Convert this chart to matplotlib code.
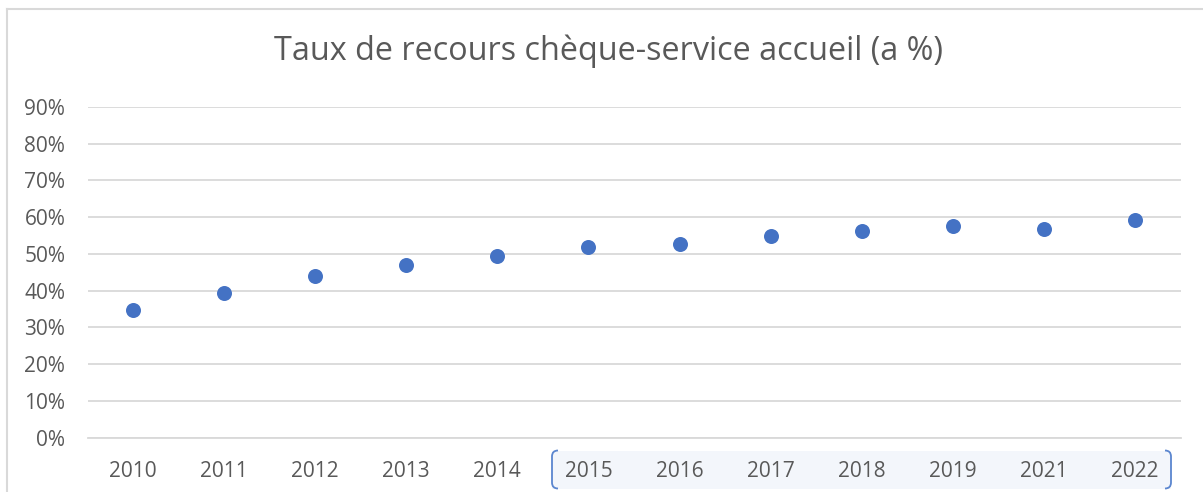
import matplotlib
matplotlib.use("Agg")
import matplotlib.pyplot as plt
from matplotlib.patches import Rectangle, PathPatch
from matplotlib.path import Path
from matplotlib.lines import Line2D
from matplotlib.transforms import IdentityTransform
from matplotlib.ticker import PercentFormatter

years = ["2010", "2011", "2012", "2013", "2014", "2015", "2016",
         "2017", "2018", "2019", "2021", "2022"]
rates = [34.8, 39.3, 44.1, 47.1, 49.5, 51.8, 52.8, 54.8, 56.2, 57.7, 56.9, 59.3]
y_ticks = [0, 10, 20, 30, 40, 50, 60, 70, 80, 90]
title = "Taux de recours chèque-service accueil (a %)"

TXT = "#595959"
GRID = "#d9d9d9"
BLUE = "#4472c4"
W, H = 1203, 492
plt.rcParams['font.family'] = ['Open Sans', 'DejaVu Sans']

fig = plt.figure(figsize=(W / 100, H / 100), dpi=100)
fig.patch.set_facecolor("white")

# chart outer border (top & left visible)
fig.add_artist(Line2D([7 / W, 7 / W], [0, 1 - 8.5 / H], color=GRID, lw=1.5, transform=fig.transFigure))
fig.add_artist(Line2D([7 / W, 1], [1 - 8.5 / H, 1 - 8.5 / H], color=GRID, lw=1.5, transform=fig.transFigure))

# highlight box behind 2015-2022 tick labels (display pixel coords)
x0, x1, yt, yb = 552, 1171, 450.5, 488.5
tr = IdentityTransform()
fig.add_artist(Rectangle((x0, H - yb), x1 - x0, yb - yt, transform=tr,
                         facecolor="#f3f6fb", edgecolor="none", zorder=0))
r = 6
lb = Path([(x0 + r, H - yt), (x0, H - yt), (x0, H - yt - r), (x0, H - yb + r),
           (x0, H - yb), (x0 + r, H - yb)],
          [Path.MOVETO, Path.CURVE3, Path.CURVE3, Path.LINETO, Path.CURVE3, Path.CURVE3])
rb = Path([(x1 - r, H - yt), (x1, H - yt), (x1, H - yt - r), (x1, H - yb + r),
           (x1, H - yb), (x1 - r, H - yb)],
          [Path.MOVETO, Path.CURVE3, Path.CURVE3, Path.LINETO, Path.CURVE3, Path.CURVE3])
for p in (lb, rb):
    fig.add_artist(PathPatch(p, transform=tr, facecolor="none", edgecolor="#5b86cf", lw=1.3, zorder=1))

ax = fig.add_axes([87.5 / W, 1 - 437.7 / H, (1180.5 - 87.5) / W, (437.7 - 107) / H])
ax.set_facecolor("none")
x = list(range(len(years)))
ax.plot(x, rates, linestyle="none", marker="o", markersize=10.8, color=BLUE,
        markeredgewidth=0, zorder=3, clip_on=False)
ax.set_xlim(-0.5, len(years) - 0.5)
ax.set_ylim(0, 90)
ax.set_yticks(y_ticks)
ax.yaxis.set_major_formatter(PercentFormatter(decimals=0))
ax.set_xticks(x)
ax.set_xticklabels(years)
ax.grid(axis="y", color=GRID, lw=1.3)
ax.set_axisbelow(True)
for s in ax.spines.values():
    s.set_visible(False)
ax.spines["bottom"].set_visible(True)
ax.spines["bottom"].set_color(GRID)
ax.spines["bottom"].set_linewidth(1.3)
ax.tick_params(axis="both", length=0, colors=TXT, labelsize=15)
ax.tick_params(axis="y", pad=16)
ax.tick_params(axis="x", pad=17)

fig.text(608 / W, 1 - 51 / H, title, ha="center", va="center", fontsize=23.3, color=TXT)

fig.savefig("out.png", dpi=100)
